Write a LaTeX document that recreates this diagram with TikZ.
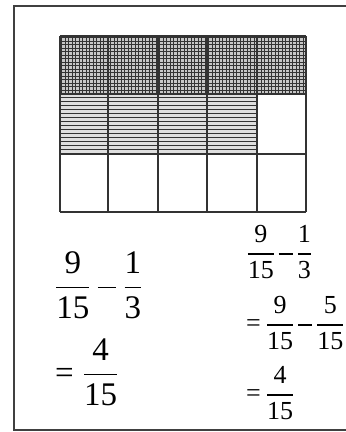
\RequirePackage{fix-cm}
\documentclass[tikz,border=0pt]{standalone}
\usepackage{amsmath}
\usepackage{fontspec}
\setmainfont{Liberation Serif}
\newcommand\fr[2]{\genfrac{}{}{1.3pt}{0}{\mbox{#1}}{\mbox{#2}}}
\newcommand\mi{\mathbin{\mbox{\rule[\dimexpr0.25em-0.65pt\relax]{0.55em}{1.3pt}}}}
\newcommand\eq{\mathrel{\mbox{=}}}
\newcommand\tightsum[1]{{\thickmuskip=4mu \medmuskip=3mu \nulldelimiterspace=0.6pt $#1$}}
\tikzset{
  gridline/.style={line width=1.4pt, black!80},
  hatchline/.style={line width=1pt, black!80},
  bigsum/.style={anchor=base west, inner sep=0pt, font=\fontsize{33}{40}\selectfont},
  smallsum/.style={anchor=base west, inner sep=0pt, font=\fontsize{26}{30}\selectfont}
}
\begin{document}
\begin{tikzpicture}[x=1pt,y=-1pt]
  \useasboundingbox (0,0) rectangle (346,432);
  \fill[white] (0,0) rectangle (346,432);

  % the frame
  \draw[line width=2.2pt, black!75] (360,6) -- (14,6) -- (14,430) -- (360,430);

  % shaded parts
  \fill[gray!45] (60,36) rectangle (306,94);
  \foreach \x in {61.5,65,...,305}
    \draw[hatchline] (\x,36) -- (\x,94);
  \foreach \y in {37.5,41,...,93}
    \draw[hatchline] (60,\y) -- (306,\y);
  \fill[gray!25] (60,94) rectangle (257,154);
  \foreach \y in {97,101,...,152}
    \draw[hatchline] (60,\y) -- (257,\y);

  % the grid
  \foreach \x in {60,108,158,207,257,306}
    \draw[gridline] (\x,36) -- (\x,212);
  \foreach \y in {36,94,154,212}
    \draw[gridline] (60,\y) -- (306,\y);

  % the sums
  \node[bigsum] (lhsA) at (55,296) {$\fr{9}{15}\mi\fr{1}{3}$};
  \node[bigsum] (lhsB) at (55,383) {$\eq\fr{4}{15}$};
  \node[smallsum] (rhsA) at (247,260.5) {\tightsum{\fr{9}{15}\mi\fr{1}{3}}};
  \node[smallsum] (rhsB) at (246,331.5) {\tightsum{\eq\fr{9}{15}\mi\fr{5}{15}}};
  \node[smallsum] (rhsC) at (246,401.5) {\tightsum{\eq\fr{4}{15}}};
\end{tikzpicture}
\end{document}
